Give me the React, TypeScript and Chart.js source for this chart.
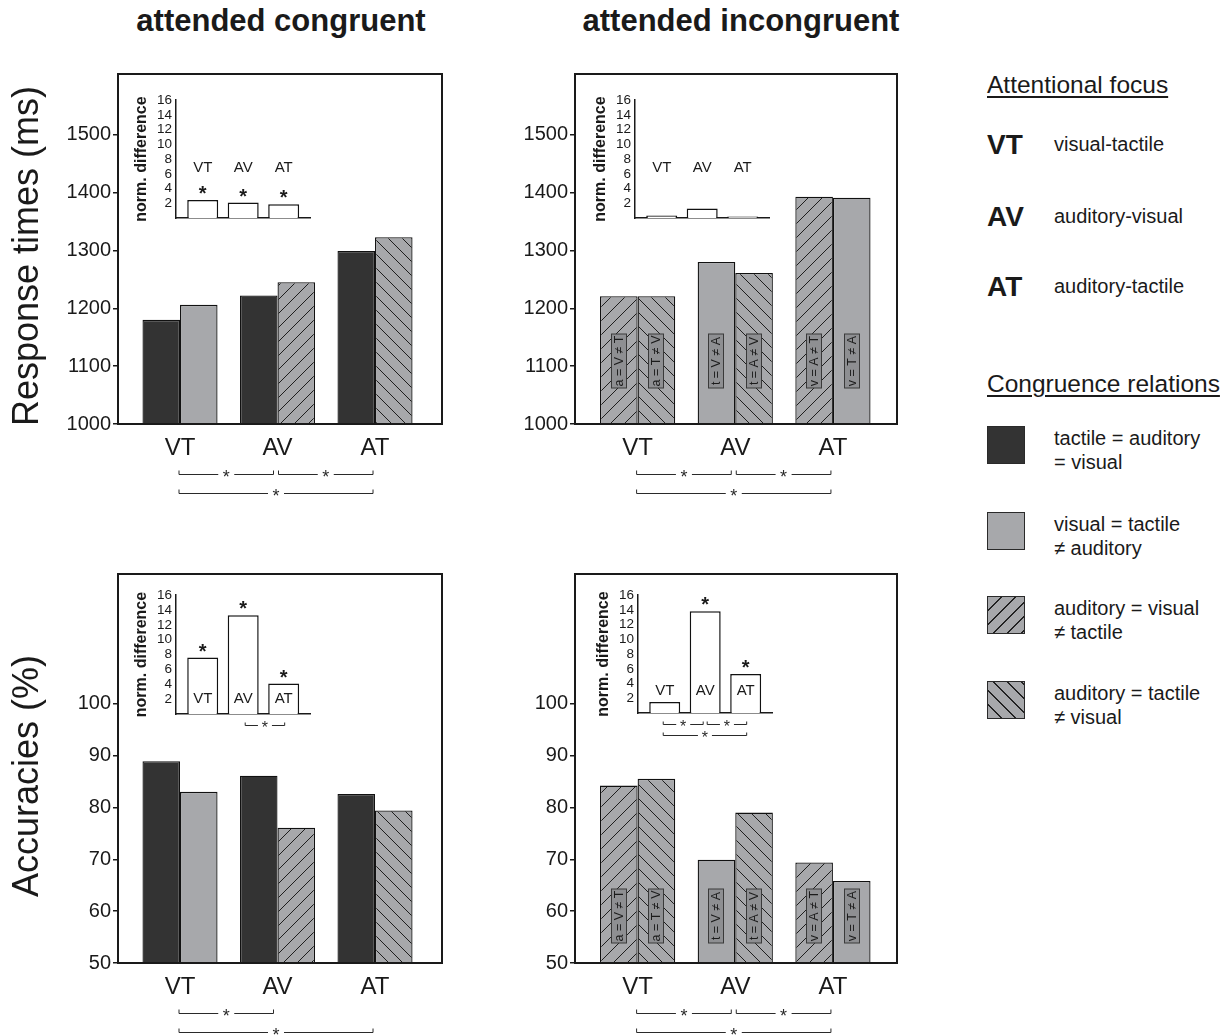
import React, { useEffect, useRef } from 'react';
import { Chart, registerables } from 'chart.js';
Chart.register(...registerables);

const FONT = '"Liberation Sans", Arial, Helvetica, sans-serif';
const DARK = '#333333';
const GREY = '#a7a8ab';
const INK = '#1a1a1a';

Chart.defaults.font.family = FONT;
Chart.defaults.color = INK;

// ---------- data ----------
const categories = ['VT', 'AV', 'AT'];

const rtTicks = [1000, 1100, 1200, 1300, 1400, 1500];
const accTicks = [50, 60, 70, 80, 90, 100];
const normTicks = [2, 4, 6, 8, 10, 12, 14, 16];

const rtCongFirst = [1180, 1222, 1299];
const rtCongSecond = [1206, 1245, 1323];
const rtIncongFirst = [1221, 1280, 1393];
const rtIncongSecond = [1221, 1261, 1391];

const accCongFirst = [88.9, 86.1, 82.6];
const accCongSecond = [83.0, 76.1, 79.4];
const accIncongFirst = [84.2, 69.9, 69.4];
const accIncongSecond = [85.5, 79.0, 65.8];

const normRtCong = [2.45, 2.1, 1.85];
const normRtIncong = [0.35, 1.3, 0.2];
const normAccCong = [7.6, 13.3, 4.1];
const normAccIncong = [1.5, 13.8, 5.3];

const starsRtCong = [true, true, true];
const starsRtIncong = [false, false, false];
const starsAccCong = [true, true, true];
const starsAccIncong = [false, true, true];

const congFirstFill = ['dark', 'dark', 'dark'];
const congSecondFill = ['grey', 'slash', 'back'];
const incongFirstFill = ['slash', 'grey', 'slash'];
const incongSecondFill = ['back', 'back', 'grey'];

const incongFirstLabels = ['a = V ≠ T', 't = V ≠ A', 'v = A ≠ T'];
const incongSecondLabels = ['a = T ≠ V', 't = A ≠ V', 'v = T ≠ A'];

// brackets: [from, to, row]
const bracketsRtCong = [[0, 1, 0], [1, 2, 0], [0, 2, 1]];
const bracketsRtIncong = [[0, 1, 0], [1, 2, 0], [0, 2, 1]];
const bracketsAccCong = [[0, 1, 0], [0, 2, 1]];
const bracketsAccIncong = [[0, 1, 0], [1, 2, 0], [0, 2, 1]];
const insetBracketsAccCong = [[1, 2, 0]];
const insetBracketsAccIncong = [[0, 1, 0], [1, 2, 0], [0, 2, 1]];

const focusLegend = [
  ['VT', 'visual-tactile'],
  ['AV', 'auditory-visual'],
  ['AT', 'auditory-tactile'],
];
const relationLegend = [
  ['dark', 'tactile = auditory', '= visual'],
  ['grey', 'visual = tactile', '≠ auditory'],
  ['slash', 'auditory = visual', '≠ tactile'],
  ['back', 'auditory = tactile', '≠ visual'],
];

// ---------- helpers ----------
const patternCache: Record<string, CanvasPattern> = {};
function makePattern(dir: string): CanvasPattern {
  if (patternCache[dir]) return patternCache[dir];
  const s = 14;
  const c = document.createElement('canvas');
  c.width = s;
  c.height = s;
  const g = c.getContext('2d')!;
  g.fillStyle = GREY;
  g.fillRect(0, 0, s, s);
  g.strokeStyle = '#1e1e1e';
  g.lineWidth = 1;
  g.beginPath();
  if (dir === 'slash') {
    g.moveTo(-1, s + 1); g.lineTo(s + 1, -1);
    g.moveTo(-1, 1); g.lineTo(1, -1);
    g.moveTo(s - 1, s + 1); g.lineTo(s + 1, s - 1);
  } else {
    g.moveTo(-1, -1); g.lineTo(s + 1, s + 1);
    g.moveTo(s - 1, -1); g.lineTo(s + 1, 1);
    g.moveTo(-1, s - 1); g.lineTo(1, s + 1);
  }
  g.stroke();
  const p = g.createPattern(c, 'repeat')!;
  patternCache[dir] = p;
  return p;
}
function fillFor(code: string): any {
  if (code === 'dark') return DARK;
  if (code === 'grey') return GREY;
  return makePattern(code);
}

function drawBrackets(ctx: CanvasRenderingContext2D, xS: any, baseY: number, list: number[][], o: any) {
  ctx.save();
  ctx.strokeStyle = '#2a2a2a';
  ctx.fillStyle = '#2a2a2a';
  ctx.lineWidth = 1;
  ctx.font = `${o.font}px ${FONT}`;
  ctx.textAlign = 'center';
  ctx.textBaseline = 'middle';
  list.forEach(([from, to, row]) => {
    const x1 = xS.getPixelForValue(from) + (from === 0 ? o.s0 : o.s1);
    const x2 = xS.getPixelForValue(to) + (to === 2 ? o.e2 : o.e1);
    const y = Math.round(baseY + o.rows[row]) + 0.5;
    const mid = (x1 + x2) / 2;
    ctx.beginPath();
    ctx.moveTo(x1, y - o.tick); ctx.lineTo(x1, y); ctx.lineTo(mid - o.gap, y);
    ctx.moveTo(mid + o.gap, y); ctx.lineTo(x2, y); ctx.lineTo(x2, y - o.tick);
    ctx.stroke();
    ctx.fillText('*', mid, y + o.starDy);
  });
  ctx.restore();
}

type Rect = { left: number; top: number; right: number; bottom: number };
type Box = { left: number; top: number; width: number; height: number };

function MainChart(p: {
  box: Box; plot: Rect; yMin: number; yMax: number; yTicks: number[]; xMin: number; xMax: number;
  first: number[]; second: number[]; firstFill: string[]; secondFill: string[];
  firstLabels?: string[]; secondLabels?: string[]; labelValue?: number; brackets: number[][];
}) {
  const ref = useRef<HTMLCanvasElement>(null);
  useEffect(() => {
    const yW = p.plot.left - p.box.left;
    const padTop = p.plot.top - p.box.top;
    const padRight = p.box.left + p.box.width - p.plot.right;
    const xH = p.box.top + p.box.height - p.plot.bottom;
    const deco = {
      id: 'deco',
      afterDatasetsDraw(chart: any) {
        if (!p.firstLabels || !p.secondLabels) return;
        const ctx = chart.ctx;
        const yS = chart.scales.y;
        [p.firstLabels, p.secondLabels].forEach((labs, di) => {
          const meta = chart.getDatasetMeta(di);
          meta.data.forEach((bar: any, i: number) => {
            const cx = Math.round(bar.x);
            const cy = Math.round(yS.getPixelForValue(p.labelValue));
            ctx.save();
            ctx.fillStyle = '#8e8f92';
            ctx.strokeStyle = '#3a3a3a';
            ctx.lineWidth = 1;
            ctx.fillRect(cx - 7.5, cy - 27, 15, 54);
            ctx.strokeRect(cx - 7.5, cy - 27, 15, 54);
            ctx.translate(cx, cy);
            ctx.rotate(-Math.PI / 2);
            ctx.fillStyle = '#1b1b1b';
            ctx.font = `12.5px ${FONT}`;
            ctx.textAlign = 'center';
            ctx.textBaseline = 'middle';
            ctx.fillText(labs[i], 0, 1);
            ctx.restore();
          });
        });
      },
      afterDraw(chart: any) {
        const { ctx, chartArea: a } = chart;
        ctx.save();
        ctx.strokeStyle = INK;
        ctx.lineWidth = 2;
        ctx.strokeRect(a.left, a.top, a.right - a.left, a.bottom - a.top);
        ctx.restore();
        drawBrackets(ctx, chart.scales.x, a.bottom, p.brackets, {
          rows: [50, 69], tick: 4, font: 18, gap: 8, starDy: 4, s0: -1, s1: 1, e1: -4, e2: -2,
        });
      },
    };
    const mk = (vals: number[], fills: string[]) => ({
      data: vals.map((v, i) => ({ x: i, y: v })),
      backgroundColor: fills.map(fillFor),
      borderColor: '#111111',
      borderWidth: 1.3,
      borderSkipped: 'start',
      categoryPercentage: 0.77,
      barPercentage: 1,
    });
    const chart = new Chart(ref.current!, {
      type: 'bar',
      data: { datasets: [mk(p.first, p.firstFill), mk(p.second, p.secondFill)] as any },
      options: {
        animation: false,
        responsive: true,
        maintainAspectRatio: false,
        events: [],
        layout: { padding: { left: 0, top: padTop, right: padRight, bottom: 0 } },
        plugins: { legend: { display: false }, tooltip: { enabled: false } },
        scales: {
          x: {
            type: 'linear', min: p.xMin, max: p.xMax, offset: false, bounds: 'data',
            grid: { display: false, drawTicks: false, offset: false },
            border: { display: false },
            ticks: {
              font: { size: 24 }, color: INK, padding: 10, autoSkip: false, maxRotation: 0,
              callback: (v: any) => categories[v] ?? '',
            },
            afterBuildTicks: (s: any) => { s.ticks = categories.map((_, i) => ({ value: i })); },
            afterFit: (s: any) => { s.height = xH; },
          },
          y: {
            min: p.yMin, max: p.yMax, bounds: 'data',
            grid: { display: true, drawOnChartArea: false, drawTicks: true, tickLength: 5, color: INK, lineWidth: 1.5 },
            border: { display: false },
            ticks: { font: { size: 20 }, color: INK, padding: 2, autoSkip: false, callback: (v: any) => String(v) },
            afterBuildTicks: (s: any) => { s.ticks = p.yTicks.map((v) => ({ value: v })); },
            afterFit: (s: any) => { s.width = yW; },
          },
        } as any,
      },
      plugins: [deco],
    });
    return () => chart.destroy();
  }, []);
  return (
    <div style={{ position: 'absolute', left: p.box.left, top: p.box.top, width: p.box.width, height: p.box.height }}>
      <canvas ref={ref} />
    </div>
  );
}

function InsetChart(p: {
  plot: Rect; values: number[]; stars: boolean[]; labelValue: number; brackets: number[][];
}) {
  const ref = useRef<HTMLCanvasElement>(null);
  const box = { left: p.plot.left - 50, top: p.plot.top - 12, width: 50 + (p.plot.right - p.plot.left) + 12, height: 12 + (p.plot.bottom - p.plot.top) + 32 };
  useEffect(() => {
    const deco = {
      id: 'insetDeco',
      afterDraw(chart: any) {
        const ctx = chart.ctx;
        const yS = chart.scales.y;
        const meta = chart.getDatasetMeta(0);
        ctx.save();
        ctx.fillStyle = INK;
        ctx.textAlign = 'center';
        ctx.textBaseline = 'middle';
        meta.data.forEach((bar: any, i: number) => {
          ctx.font = `15px ${FONT}`;
          ctx.fillText(categories[i], bar.x, yS.getPixelForValue(p.labelValue));
          if (p.stars[i]) {
            ctx.font = `bold 20px ${FONT}`;
            ctx.fillText('*', bar.x, bar.y - 5.5);
          }
        });
        ctx.restore();
        drawBrackets(ctx, chart.scales.x, chart.chartArea.bottom, p.brackets, {
          rows: [11, 22], tick: 3, font: 16, gap: 7, starDy: 3.5, s0: -1.5, s1: 2, e1: -2, e2: 1,
        });
      },
    };
    const chart = new Chart(ref.current!, {
      type: 'bar',
      data: {
        datasets: [{
          data: p.values.map((v, i) => ({ x: i, y: v })),
          backgroundColor: '#ffffff',
          borderColor: '#111111',
          borderWidth: 1.5,
          borderSkipped: 'start',
          categoryPercentage: 0.765,
          barPercentage: 1,
        }] as any,
      },
      options: {
        animation: false,
        responsive: true,
        maintainAspectRatio: false,
        events: [],
        layout: { padding: { left: 0, top: 12, right: 12, bottom: 0 } },
        plugins: { legend: { display: false }, tooltip: { enabled: false } },
        scales: {
          x: {
            type: 'linear', min: -0.66, max: 2.65, offset: false, bounds: 'data',
            grid: { display: false, drawTicks: false, offset: false },
            border: { display: true, color: INK, width: 1.5 },
            ticks: { display: false },
            afterBuildTicks: (s: any) => { s.ticks = categories.map((_, i) => ({ value: i })); },
            afterFit: (s: any) => { s.height = 32; },
          },
          y: {
            min: 0, max: 16, bounds: 'data',
            grid: { display: false, drawTicks: false },
            border: { display: true, color: INK, width: 1.5 },
            ticks: { font: { size: 13.5 }, color: INK, padding: 4, autoSkip: false, callback: (v: any) => String(v) },
            title: { display: true, text: 'norm. difference', font: { size: 16, weight: 'bold' }, color: INK, padding: { top: 6.4, bottom: 0 } },
            afterBuildTicks: (s: any) => { s.ticks = normTicks.map((v) => ({ value: v })); },
            afterFit: (s: any) => { s.width = 50; },
          },
        } as any,
      },
      plugins: [deco],
    });
    return () => chart.destroy();
  }, []);
  return (
    <div style={{ position: 'absolute', left: box.left, top: box.top, width: box.width, height: box.height }}>
      <canvas ref={ref} />
    </div>
  );
}

function T(props: { x: number; y: number; size: number; bold?: boolean; center?: boolean; underline?: boolean; children: any; lh?: number }) {
  return (
    <div style={{
      position: 'absolute', left: props.x, top: props.y, fontSize: props.size,
      fontWeight: props.bold ? 'bold' : 'normal', lineHeight: props.lh ? `${props.lh}px` : 1,
      whiteSpace: 'nowrap', transform: props.center ? 'translateX(-50%)' : undefined,
      textDecoration: props.underline ? 'underline' : 'none', textUnderlineOffset: 3,
    }}>{props.children}</div>
  );
}

function swatchBg(code: string): string {
  if (code === 'dark') return DARK;
  if (code === 'grey') return GREY;
  const ang = code === 'slash' ? 135 : 45;
  return `repeating-linear-gradient(${ang}deg, ${GREY} 0px, ${GREY} 8.6px, #222 8.6px, #222 9.9px)`;
}

export default function App() {
  const swTops = [426, 512, 596, 681];
  const focusTops = [131, 203, 273];
  return (
    <div style={{ position: 'absolute', left: 0, top: 0, width: 1231, height: 1036, background: '#fff', fontFamily: FONT, color: INK, overflow: 'hidden' }}>
      <MainChart box={{ left: 0, top: 60, width: 460, height: 460 }} plot={{ left: 118, top: 72, right: 442, bottom: 424 }}
        yMin={1000} yMax={1605} yTicks={rtTicks} xMin={-0.636} xMax={2.687}
        first={rtCongFirst} second={rtCongSecond} firstFill={congFirstFill} secondFill={congSecondFill}
        brackets={bracketsRtCong} />
      <MainChart box={{ left: 470, top: 60, width: 440, height: 460 }} plot={{ left: 575, top: 72, right: 897, bottom: 424 }}
        yMin={1000} yMax={1605} yTicks={rtTicks} xMin={-0.641} xMax={2.656}
        first={rtIncongFirst} second={rtIncongSecond} firstFill={incongFirstFill} secondFill={incongSecondFill}
        firstLabels={incongFirstLabels} secondLabels={incongSecondLabels} labelValue={1109}
        brackets={bracketsRtIncong} />
      <MainChart box={{ left: 0, top: 560, width: 460, height: 476 }} plot={{ left: 118, top: 570, right: 442, bottom: 963 }}
        yMin={50} yMax={125} yTicks={accTicks} xMin={-0.636} xMax={2.687}
        first={accCongFirst} second={accCongSecond} firstFill={congFirstFill} secondFill={congSecondFill}
        brackets={bracketsAccCong} />
      <MainChart box={{ left: 470, top: 560, width: 440, height: 476 }} plot={{ left: 575, top: 570, right: 897, bottom: 963 }}
        yMin={50} yMax={125} yTicks={accTicks} xMin={-0.641} xMax={2.656}
        first={accIncongFirst} second={accIncongSecond} firstFill={incongFirstFill} secondFill={incongSecondFill}
        firstLabels={incongFirstLabels} secondLabels={incongSecondLabels} labelValue={59}
        brackets={bracketsAccIncong} />

      <InsetChart plot={{ left: 176, top: 100, right: 310, bottom: 218 }} values={normRtCong} stars={starsRtCong} labelValue={6.8} brackets={[]} />
      <InsetChart plot={{ left: 635, top: 100, right: 769, bottom: 218 }} values={normRtIncong} stars={starsRtIncong} labelValue={6.8} brackets={[]} />
      <InsetChart plot={{ left: 176, top: 595, right: 310, bottom: 714 }} values={normAccCong} stars={starsAccCong} labelValue={2.1} brackets={insetBracketsAccCong} />
      <InsetChart plot={{ left: 638, top: 595, right: 772, bottom: 713 }} values={normAccIncong} stars={starsAccIncong} labelValue={3.0} brackets={insetBracketsAccIncong} />

      <T x={281} y={5} size={31} bold center>attended congruent</T>
      <T x={741} y={5} size={31} bold center>attended incongruent</T>

      <div style={{ position: 'absolute', left: 26, top: 256, fontSize: 36, lineHeight: 1, whiteSpace: 'nowrap', transform: 'translate(-50%,-50%) rotate(-90deg)' }}>Response times (ms)</div>
      <div style={{ position: 'absolute', left: 26, top: 776, fontSize: 36, lineHeight: 1, whiteSpace: 'nowrap', transform: 'translate(-50%,-50%) rotate(-90deg)' }}>Accuracies (%)</div>

      <T x={987} y={73} size={24.5} underline>Attentional focus</T>
      {focusLegend.map(([k, d], i) => (
        <React.Fragment key={k}>
          <T x={987} y={focusTops[i]} size={28} bold>{k}</T>
          <T x={1054} y={focusTops[i] + 3} size={20}>{d}</T>
        </React.Fragment>
      ))}
      <T x={987} y={372} size={24.5} underline>Congruence relations</T>
      {relationLegend.map(([code, l1, l2], i) => (
        <React.Fragment key={code}>
          <div style={{ position: 'absolute', left: 987, top: swTops[i], width: 38, height: 38, boxSizing: 'border-box', border: '1.5px solid #2a2a2a', background: swatchBg(code) }} />
          <div style={{ position: 'absolute', left: 1054, top: swTops[i] + 1, fontSize: 20, lineHeight: '23.5px', whiteSpace: 'nowrap' }}>
            <div>{l1}</div>
            <div>{l2}</div>
          </div>
        </React.Fragment>
      ))}
    </div>
  );
}
